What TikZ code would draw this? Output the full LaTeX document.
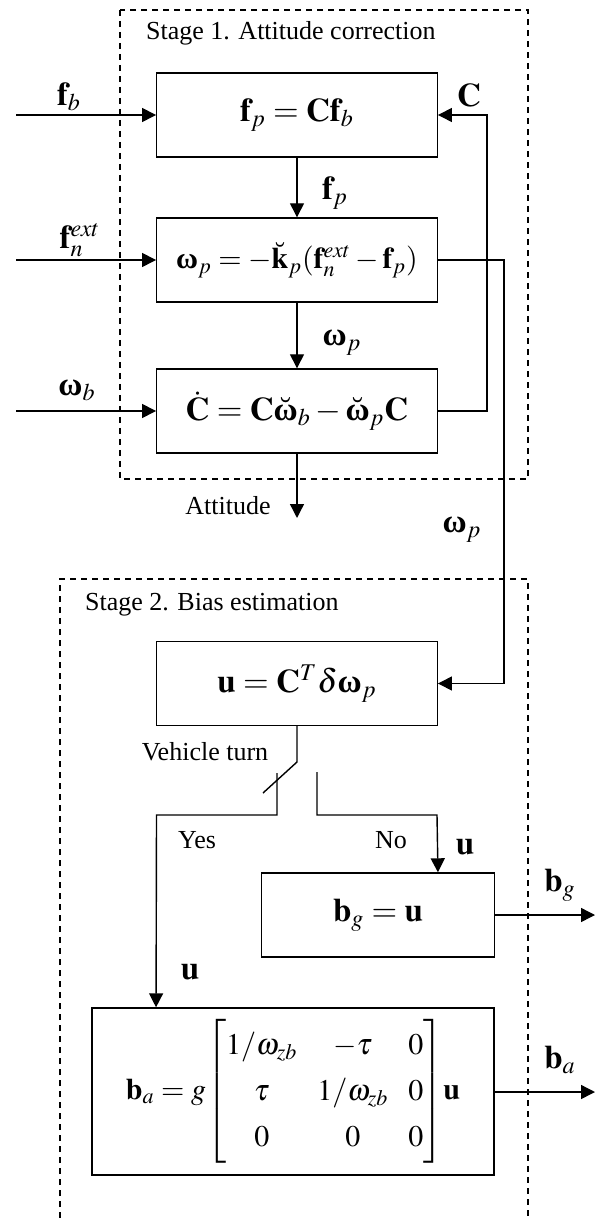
\documentclass[tikz,border=0pt]{standalone}
\usepackage{amsmath}
\usepackage{mathptmx}
\usepackage{fontspec}
\setmainfont{Liberation Serif}
\usetikzlibrary{arrows.meta}
\DeclareMathSizes{16.5}{16.5}{12}{9}
\DeclareMathSizes{15}{15}{11}{8}
\newcommand{\bomg}{\text{\bfseries\upshape ω}}

\tikzset{
	blk/.style={draw, line width=0.7pt, minimum width=140.25pt, minimum height=42pt, inner sep=0pt, font=\fontsize{16.5}{20}\selectfont},
	ln/.style={line width=0.7pt},
	arr/.style={line width=0.7pt, -{Triangle[length=7pt,width=7pt]}},
	dsh/.style={line width=0.7pt, dash pattern=on 3pt off 2.5pt},
	lbl/.style={font=\fontsize{16.5}{20}\selectfont},
	txt/.style={font=\fontsize{13}{15}\selectfont},
}

\begin{document}
\begin{tikzpicture}[x=0.5pt,y=-0.5pt]
		\useasboundingbox (0,0) rectangle (596,1218);
		% stage 1
		\draw[dsh] (120,10) rectangle (528,479);
		\node[txt, anchor=west] (st1) at (139,33) {Stage 1. Attitude correction};
		\node[blk] (box1) at (297,115) {$\mathbf{f}_p=\mathbf{C}\mathbf{f}_b$};
		\node[blk, font=\fontsize{15}{18}\selectfont] (box2) at (297,260) {$\bomg_p=-\breve{\mathbf{k}}_p(\mathbf{f}_n^{ext}-\mathbf{f}_p)$};
		\node[blk] (box3) at (297,411) {$\dot{\mathbf{C}}=\mathbf{C}\breve{\bomg}_b-\breve{\bomg}_p\mathbf{C}$};
		\coordinate (fbin) at (16,115);
		\coordinate (fnin) at (16,260);
		\coordinate (wbin) at (16,411);
		\coordinate (att) at (297,518);
		\draw[arr] (fbin) -- (box1.west);
		\draw[arr] (fnin) -- (box2.west);
		\draw[arr] (wbin) -- (box3.west);
		\draw[arr] (box1.south) -- (box2.north);
		\draw[arr] (box2.south) -- (box3.north);
		\draw[arr] (box3.south) -- (att);
		\draw[arr] (box3.east) -- ++(49,0) |- (box1.east);
		\path (69,97) node[lbl] (lfb) {$\mathbf{f}_b$};
		\path (80,240) node[lbl] (lfn) {$\mathbf{f}_n^{ext}$};
		\path (77,390) node[lbl] (lwb) {$\bomg_b$};
		\path (335,193) node[lbl] (lfp) {$\mathbf{f}_p$};
		\path (342,343) node[lbl] (lwp) {$\bomg_p$};
		\path (469,95) node[lbl] (lC) {$\mathbf{C}$};
		\path (228,506) node[txt] (latt) {Attitude};
		% stage 2
		\draw[dsh] (60,1218) -- (60,579) -- (528,579) -- (528,1218);
		\node[txt, anchor=west] (st2) at (78,605) {Stage 2. Bias estimation};
		\node[blk] (boxu) at (297,683.5) {$\mathbf{u}=\mathbf{C}^T\delta\bomg_p$};
		\node[blk, minimum width=116.25pt] (boxg) at (378,915) {$\mathbf{b}_g=\mathbf{u}$};
		\node[blk, minimum width=201pt, minimum height=83.5pt, font=\fontsize{15}{20}\selectfont] (boxa) at (293,1091.5) {%
			$\mathbf{b}_a=g{\renewcommand{\arraystretch}{1.15}\setlength{\arraycolsep}{5pt}\begin{bmatrix}1/\omega_{zb} & -\tau & 0\\ \tau & 1/\omega_{zb} & 0\\ 0 & 0 & 0\end{bmatrix}}\mathbf{u}$};
		\draw[arr] (box2.east) -- (504,260) |- (boxu.east);
		\path (462,530) node[lbl] (lwp2) {$\bomg_p$};
		% switch
		\coordinate (sw) at (297,762);
		\coordinate (yes) at (277,773);
		\coordinate (no) at (317,772);
		\draw[ln] (boxu.south) -- (sw) -- (263,793);
		\draw[arr] (yes) -- (277,815) -- (156.5,815) -- (box1.west |- boxa.north);
		\draw[arr] (no) -- (317,815) -- (437,815) -- (boxu.east |- boxg.north);
		\path (205,752) node[txt] (lvt) {Vehicle turn};
		\path (197,840) node[txt] (lyes) {Yes};
		\path (391,840) node[txt] (lno) {No};
		\path (465,847) node[lbl] (lu1) {$\mathbf{u}$};
		\path (190,972) node[lbl] (lu2) {$\mathbf{u}$};
		% outputs
		\coordinate (bgout) at (595,915);
		\coordinate (baout) at (595,1092);
		\draw[arr] (boxg.east) -- (bgout);
		\draw[arr] (boxa.east |- baout) -- (baout);
		\path (560,885) node[lbl] (lbg) {$\mathbf{b}_g$};
		\path (560,1060) node[lbl] (lba) {$\mathbf{b}_a$};
\end{tikzpicture}
\end{document}
